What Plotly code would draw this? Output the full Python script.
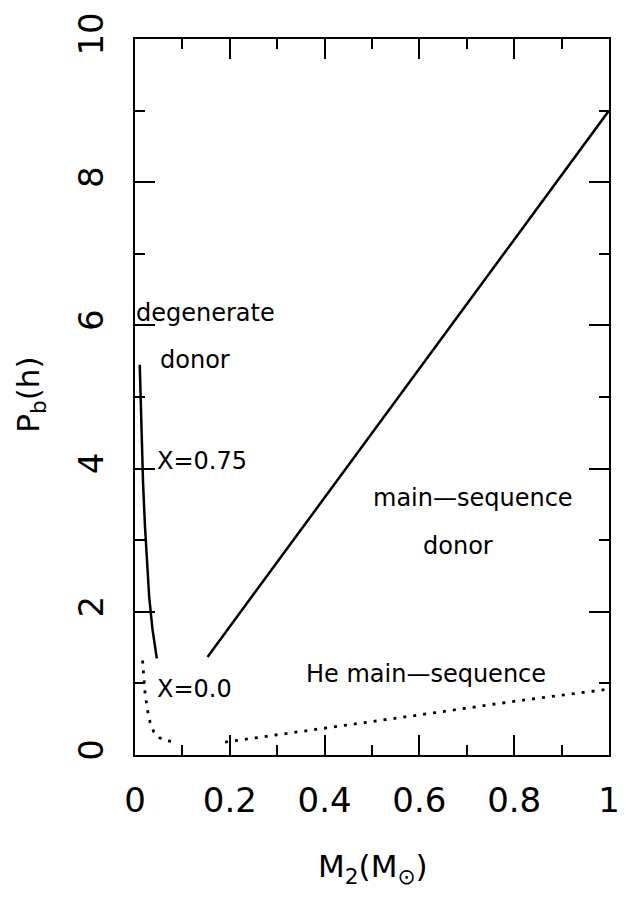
import plotly.graph_objects as go

# Degenerate donor, X=0.75 (solid)
deg75_m = [0.010, 0.012, 0.014, 0.017, 0.021, 0.025, 0.030, 0.037, 0.046]
deg75_p = [5.45, 5.00, 4.40, 3.80, 3.20, 2.69, 2.20, 1.75, 1.35]

# Degenerate donor, X=0.0 (dotted)
deg0_m = [0.016, 0.018, 0.021, 0.026, 0.032, 0.040, 0.052, 0.066, 0.085]
deg0_p = [1.32, 1.10, 0.88, 0.64, 0.45, 0.32, 0.24, 0.20, 0.18]

# Main-sequence donor (solid)
ms_m = [0.153, 0.40, 0.70, 1.00]
ms_p = [1.37, 3.60, 6.30, 9.00]

# He main-sequence (dotted)
he_m = [0.19, 0.40, 0.60, 0.80, 1.00]
he_p = [0.18, 0.38, 0.56, 0.75, 0.92]

x_ticks = [0, 0.2, 0.4, 0.6, 0.8, 1.0]
x_tick_text = ["0", "0.2", "0.4", "0.6", "0.8", "1"]
y_ticks = [0, 2, 4, 6, 8, 10]
y_tick_text = ["0", "2", "4", "6", "8", "10"]

labels = ["degenerate", "donor", "X=0.75", "X=0.0", "main\u2014sequence", "donor", "He main\u2014sequence"]
label_m = [0.148, 0.126, 0.142, 0.126, 0.713, 0.682, 0.613]
label_p = [6.18, 5.52, 4.10, 0.92, 3.59, 2.92, 1.13]

FONT = "DejaVu Sans"

fig = go.Figure()
fig.add_trace(go.Scatter(x=deg75_m, y=deg75_p, mode="lines",
                         line=dict(color="black", width=2.5), showlegend=False))
fig.add_trace(go.Scatter(x=deg0_m, y=deg0_p, mode="lines",
                         line=dict(color="black", width=2.8, dash="3px,7px"), showlegend=False))
fig.add_trace(go.Scatter(x=ms_m, y=ms_p, mode="lines",
                         line=dict(color="black", width=2.5), showlegend=False))
fig.add_trace(go.Scatter(x=he_m, y=he_p, mode="lines",
                         line=dict(color="black", width=2.8, dash="3px,7px"), showlegend=False))

for t, xm, yp in zip(labels, label_m, label_p):
    fig.add_annotation(x=xm, y=yp, text=t, showarrow=False, xanchor="center", yanchor="middle",
                       font=dict(family=FONT, size=24, color="black"))

fig.add_annotation(xref="paper", yref="paper", x=-0.2197, y=0.503, text="P<sub>b</sub>(h)",
                   textangle=-90, showarrow=False, xanchor="center", yanchor="middle",
                   font=dict(family=FONT, size=31, color="black"))
fig.add_annotation(xref="paper", yref="paper", x=0.502, y=-0.158, text="M<sub>2</sub>(M<sub>\u2299</sub>)",
                   showarrow=False, xanchor="center", yanchor="middle",
                   font=dict(family=FONT, size=31, color="black"))

axis_common = dict(showgrid=False, zeroline=False, showline=True, linecolor="black", linewidth=2,
                   mirror="ticks", ticks="inside", ticklen=20, tickwidth=2, tickcolor="black",
                   tickfont=dict(family=FONT, size=34, color="black"))

fig.update_xaxes(range=[0, 1], tickvals=x_ticks, ticktext=x_tick_text, ticklabelstandoff=14,
                 minor=dict(dtick=0.1, ticks="inside", ticklen=10, tickwidth=2, tickcolor="black"),
                 **axis_common)
fig.update_yaxes(range=[0, 10], tickvals=y_ticks, ticktext=y_tick_text, tickangle=-90,
                 ticklabelstandoff=16,
                 minor=dict(dtick=1, ticks="inside", ticklen=10, tickwidth=2, tickcolor="black"),
                 **axis_common)

fig.update_layout(width=632, height=905, margin=dict(l=135, r=19, t=30, b=150),
                  plot_bgcolor="white", paper_bgcolor="white", showlegend=False)

fig.write_html("out.html")
